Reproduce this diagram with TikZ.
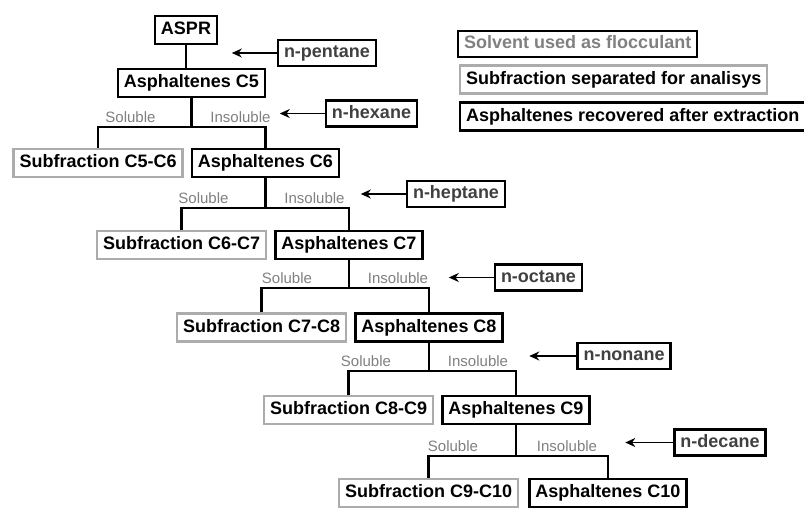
\documentclass[tikz,border=0pt]{standalone}
\usepackage{fontspec}
\setmainfont{Liberation Sans}
\usetikzlibrary{positioning,arrows.meta}

\begin{document}
\begin{tikzpicture}[x=1pt,y=-1pt,>={Stealth[length=10pt,width=9pt]},
  line width=2.2pt,node distance=7pt,
  asph/.style={draw,line width=2.4pt,font=\fontsize{18}{20}\selectfont\bfseries,
    minimum height=28pt,inner xsep=6pt,text height=13pt,text depth=4pt},
  subfr/.style={asph,draw=gray!65},
  solvent/.style={asph,minimum height=26pt,text=black!75},
  lbl/.style={font=\fontsize{15}{16}\selectfont,text=gray,inner sep=1pt}]

  \useasboundingbox (0,0) rectangle (804,509);

  % main column
  \node[asph] (aspr) at (186,30) {ASPR};
  \node[asph] (a5) at (191.5,83) {Asphaltenes C5};
  \node[asph] (a6) at (265.5,163) {Asphaltenes C6};
  \node[asph] (a7) at (349,245) {Asphaltenes C7};
  \node[asph] (a8) at (429,327.5) {Asphaltenes C8};
  \node[asph] (a9) at (516,410) {Asphaltenes C9};
  \node[asph] (a10) at (608,493) {Asphaltenes C10};

  \node[subfr] (sub6) [left=of a6] {Subfraction C5-C6};
  \node[subfr] (sub7) [left=of a7] {Subfraction C6-C7};
  \node[subfr] (sub8) [left=of a8] {Subfraction C7-C8};
  \node[subfr] (sub9) [left=of a9] {Subfraction C8-C9};
  \node[subfr] (sub10) [left=9pt of a10] {Subfraction C9-C10};

  % solvents
  \node[solvent] (pent) at (327,53) {n-pentane};
  \node[solvent] (hex) at (371.5,113.5) {n-hexane};
  \node[solvent] (hept) at (456,194) {n-heptane};
  \node[solvent] (oct) at (538.5,277.5) {n-octane};
  \node[solvent] (non) at (624,356) {n-nonane};
  \node[solvent] (dec) at (720,442.5) {n-decane};

  % key
  \node[solvent,text=gray,anchor=west] (key1) at (457,44) {Solvent used as flocculant};
  \node[subfr,anchor=west] (key2) at (459,79.5) {Subfraction separated for analisys};
  \node[asph,anchor=west] (key3) at (459,116.5) {Asphaltenes recovered after extraction};

  % splits
  \coordinate (s5) at (a5.south |- 0,127);
  \coordinate (s6) at (a6.south |- 0,208);
  \coordinate (s7) at (a7.south |- 0,288);
  \coordinate (s8) at (a8.south |- 0,371);
  \coordinate (s9) at (a9.south |- 0,456);

  \draw (aspr) -- (aspr.south |- a5.north);
  \draw (a5) -- (s5);
  \draw (sub6.north) -- (sub6.north |- s5) -- (a6.north |- s5) -- (a6.north);
  \draw (a6) -- (s6);
  \draw (sub7.north) -- (sub7.north |- s6) -- (a7.north |- s6) -- (a7.north);
  \draw (a7) -- (s7);
  \draw (sub8.north) -- (sub8.north |- s7) -- (a8.north |- s7) -- (a8.north);
  \draw (a8) -- (s8);
  \draw (sub9.north) -- (sub9.north |- s8) -- (a9.north |- s8) -- (a9.north);
  \draw (a9) -- (s9);
  \draw (sub10.north) -- (sub10.north |- s9) -- (a10.north |- s9) -- (a10.north);

  \node[lbl,anchor=base] (sol5) at ([xshift=-61pt,yshift=5pt]s5) {Soluble};
  \node[lbl,anchor=base] (ins5) at ([xshift=49pt,yshift=5pt]s5) {Insoluble};
  \node[lbl,anchor=base] (sol6) at ([xshift=-62pt,yshift=5pt]s6) {Soluble};
  \node[lbl,anchor=base] (ins6) at ([xshift=49pt,yshift=5pt]s6) {Insoluble};
  \node[lbl,anchor=base] (sol7) at ([xshift=-62pt,yshift=5pt]s7) {Soluble};
  \node[lbl,anchor=base] (ins7) at ([xshift=49pt,yshift=5pt]s7) {Insoluble};
  \node[lbl,anchor=base] (sol8) at ([xshift=-63pt,yshift=5pt]s8) {Soluble};
  \node[lbl,anchor=base] (ins8) at ([xshift=49pt,yshift=5pt]s8) {Insoluble};
  \node[lbl,anchor=base] (sol9) at ([xshift=-63pt,yshift=5pt]s9) {Soluble};
  \node[lbl,anchor=base] (ins9) at ([xshift=51pt,yshift=5pt]s9) {Insoluble};

  % solvent arrows
  \coordinate[left=45pt of pent.west] (t5);
  \coordinate[left=45pt of hex.west] (t6);
  \coordinate[left=45pt of hept.west] (t7);
  \coordinate[left=45pt of oct.west] (t8);
  \coordinate[left=47pt of non.west] (t9);
  \coordinate[left=48pt of dec.west] (t10);
  \path[->,line width=1.6pt]
    (pent) edge (t5)
    (hex) edge (t6)
    (hept) edge (t7)
    (oct) edge (t8)
    (non) edge (t9)
    (dec) edge (t10);
\end{tikzpicture}
\end{document}
